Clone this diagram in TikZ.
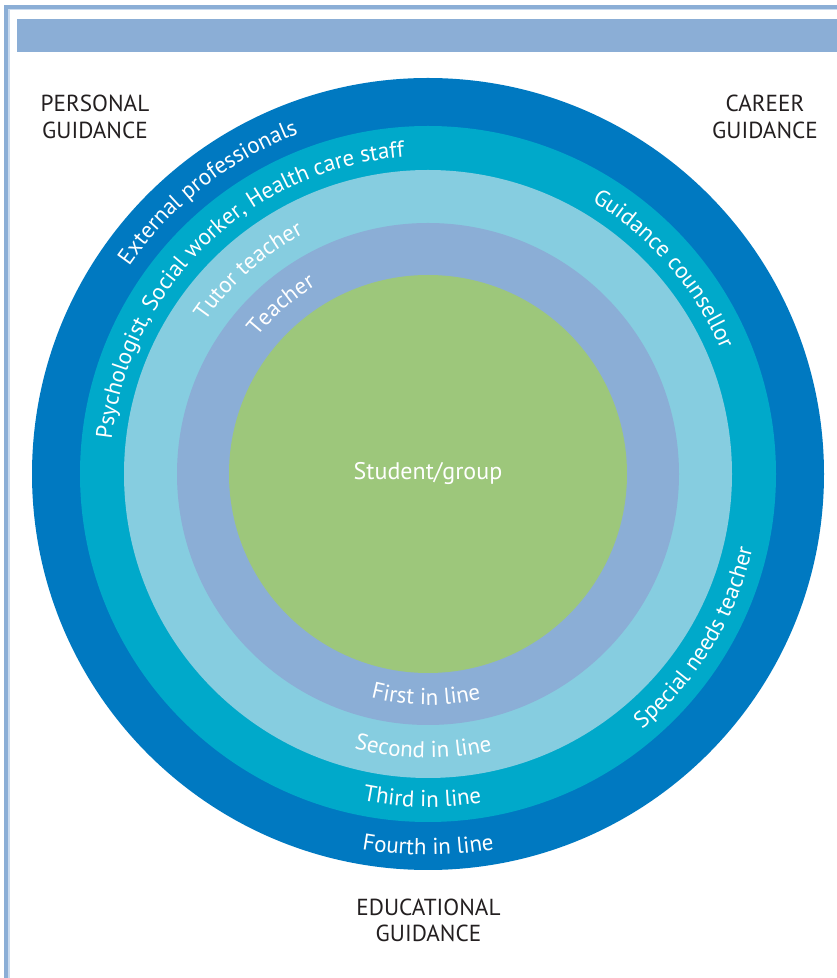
\documentclass[tikz,border=0pt]{standalone}
\usepackage{fontspec}
\setmainfont{PT Sans}
\usetikzlibrary{decorations.text}
\definecolor{cdark}{HTML}{0079C1}
\definecolor{cteal}{HTML}{00A9CA}
\definecolor{clight}{HTML}{86CDE0}
\definecolor{clav}{HTML}{8BAED6}
\definecolor{cpale}{HTML}{C9DAEE}
\definecolor{cgreen}{HTML}{9DC77B}
\definecolor{cink}{HTML}{231F20}
\newcommand\rfont{\fontsize{23}{23}\selectfont}
\tikzset{
  ring/.style={circle, inner sep=0pt, outer sep=0pt, fill=#1},
  heading/.style={align=center, inner sep=0pt, text=cink, font=\fontsize{23.2}{26.5}\selectfont},
  ringtext/.style={decoration={text along path, text align=center, text color=white, text={|\rfont|#1}}, decorate}
}
\begin{document}
\begin{tikzpicture}[x=1pt,y=1pt]
\useasboundingbox (0,0) rectangle (837,978);
% frame
\fill[clav] (3.5,0) rectangle (8.3,973);
\fill[clav] (3.5,969) rectangle (837,973);
\fill[cpale] (8.3,0) rectangle (9.5,969);
\fill[cpale] (8.3,968) rectangle (837,969);
\fill[clav] (16.7,926.3) rectangle (837,959);
% rings
\coordinate (O) at (428,504);
\node[ring=cdark, minimum size=792pt] (r4) at (O) {};
\node[ring=cteal, minimum size=696pt] (r3) at (O) {};
\node[ring=clight, minimum size=608pt] (r2) at (O) {};
\node[ring=clav, minimum size=502pt] (r1) at (O) {};
\node[ring=cgreen, minimum size=398pt, text=white, font=\fontsize{24}{24}\selectfont] (student) at (O) {Student/group};
% headings
\node[heading] (personal) at (95,861) {PERSONAL\\GUIDANCE};
\node[heading] (career) at (765,861) {CAREER\\GUIDANCE};
\node[heading] (educational) at (428.5,57.5) {EDUCATIONAL\\GUIDANCE};
% labels along the top (clockwise)
\path[ringtext={External professionals}] ([shift={(170:364)}]O) arc[start angle=170, end angle=86, radius=364];
\path[ringtext={Psychologist, Social worker, Health care staff}] ([shift={(200:318)}]O) arc[start angle=200, end angle=68, radius=318];
\path[ringtext={Tutor teacher}] ([shift={(175:270)}]O) arc[start angle=175, end angle=88, radius=270];
\path[ringtext={Teacher}] ([shift={(175:219)}]O) arc[start angle=175, end angle=87, radius=219];
\path[ringtext={Guidance counsellor}] ([shift={(90:318)}]O) arc[start angle=90, end angle=-8, radius=318];
% labels reading counter-clockwise
\path[ringtext={Special needs teacher}] ([shift={(-80:333)}]O) arc[start angle=-80, end angle=17, radius=333];
\path[ringtext={First in line}] ([shift={(-130:231)}]O) arc[start angle=-130, end angle=-51, radius=231];
\path[ringtext={Second in line}] ([shift={(-131:284)}]O) arc[start angle=-131, end angle=-51, radius=284];
\path[ringtext={Third in line}] ([shift={(-131:333)}]O) arc[start angle=-131, end angle=-51, radius=333];
\path[ringtext={Fourth in line}] ([shift={(-130:381)}]O) arc[start angle=-130, end angle=-50, radius=381];
\end{tikzpicture}
\end{document}
